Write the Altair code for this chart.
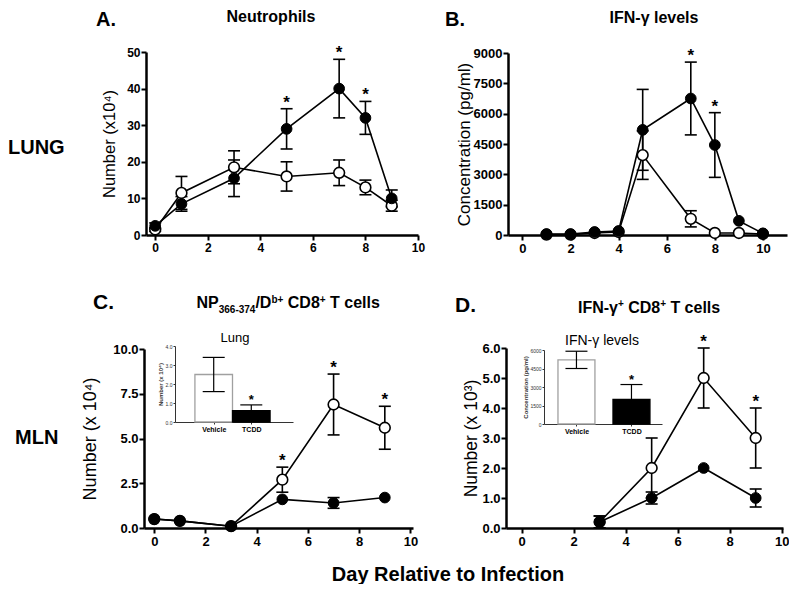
import altair as alt
import pandas as pd

FONT = "Liberation Sans"
W, H = 781, 576

# ---------------- data ----------------
# Panel A: Neutrophils (lung), number x10^4
A_days = [0, 1, 3, 5, 7, 8, 9]
A_vehicle = [1.5, 11.5, 18.5, 16.0, 17.0, 13.0, 8.0]
A_vehicle_err = [0.5, 4.5, 4.5, 4.0, 3.5, 2.0, 1.5]
A_tcdd = [2.5, 8.5, 15.5, 29.0, 40.0, 32.0, 10.0]
A_tcdd_err = [0.8, 2.0, 5.0, 5.5, 8.0, 4.5, 2.3]
A_stars = [("TCDD", 5), ("TCDD", 7), ("TCDD", 8)]

# Panel B: IFN-gamma levels (lung), pg/ml
B_days = [1, 2, 3, 4, 5, 7, 8, 9, 10]
B_vehicle = [20, 20, 100, 150, 3950, 800, 100, 100, 50]
B_vehicle_err = [0, 0, 0, 0, 1200, 400, 0, 0, 0]
B_tcdd = [50, 50, 150, 200, 5200, 6750, 4450, 700, 80]
B_tcdd_err = [0, 0, 0, 0, 2000, 1800, 1600, 0, 0]
B_stars = [("TCDD", 7), ("TCDD", 8)]

# Panel C: NP366-374/Db+ CD8+ T cells (MLN), number x10^4
C_days = [0, 1, 3, 5, 7, 9]
C_vehicle = [0.5, 0.4, 0.1, 2.7, 6.9, 5.6]
C_vehicle_err = [0, 0, 0, 0.7, 1.7, 1.2]
C_tcdd = [0.5, 0.4, 0.1, 1.6, 1.4, 1.7]
C_tcdd_err = [0, 0, 0, 0, 0.3, 0]
C_stars = [("Vehicle", 5), ("Vehicle", 7), ("Vehicle", 9)]

# Panel D: IFN-gamma+ CD8+ T cells (MLN), number x10^3
D_days = [3, 5, 7, 9]
D_vehicle = [0.2, 2.0, 5.0, 3.0]
D_vehicle_err = [0.2, 1.0, 1.0, 1.0]
D_tcdd = [0.2, 1.0, 2.0, 1.0]
D_tcdd_err = [0.2, 0.2, 0, 0.3]
D_stars = [("Vehicle", 7), ("Vehicle", 9)]

# Insets
inset_groups = ["Vehicle", "TCDD"]
IC_vals = [2.5, 0.6]
IC_err = [0.9, 0.3]
IC_stars = ["TCDD"]
ID_vals = [5200, 2000]
ID_err = [700, 1200]
ID_stars = ["TCDD"]


# ---------------- helpers ----------------
def series_df(days, veh, veh_err, tcdd, tcdd_err):
    rows = []
    for d, v, e in zip(days, veh, veh_err):
        rows.append({"day": d, "val": v, "err": e, "grp": "Vehicle"})
    for d, v, e in zip(days, tcdd, tcdd_err):
        rows.append({"day": d, "val": v, "err": e, "grp": "TCDD"})
    df = pd.DataFrame(rows)
    df["lo"] = df["val"] - df["err"]
    df["hi"] = df["val"] + df["err"]
    return df


def panel(df, stars, xdom, xr, ydom, yr, yvals, yfmt, ytitle, titlex, tsize, lsize):
    xs = alt.Scale(domain=xdom, range=xr, nice=False, zero=False)
    ys = alt.Scale(domain=ydom, range=yr, nice=False, zero=False)
    common = dict(tickSize=5, tickWidth=2, domainWidth=2.5, labelFontSize=lsize,
                  labelFontWeight="bold", labelFlush=False, labelOverlap=False,
                  labelBound=False)
    xax = alt.Axis(orient="bottom", offset=yr[0] - H, values=[0, 2, 4, 6, 8, 10],
                   format="d", title=None, labelPadding=2, **common)
    yax = alt.Axis(orient="left", offset=-xr[0], values=yvals, format=yfmt,
                   title=ytitle, titleX=titlex, titleAngle=-90, titleBaseline="middle",
                   titleFontSize=tsize, titleFontWeight="normal", labelPadding=1, **common)
    X = alt.X("day:Q", scale=xs, axis=xax)

    def Y(f):
        return alt.Y(f"{f}:Q", scale=ys, axis=yax)

    base = alt.Chart(df)
    lines = base.mark_line(color="black", strokeWidth=1.6).encode(X, Y("val"), detail="grp:N")
    errd = base.transform_filter("datum.err > 0")
    rules = errd.mark_rule(color="black", strokeWidth=1.6).encode(X, Y("lo"), y2="hi:Q")
    cap_lo = errd.mark_tick(orient="horizontal", color="black", size=12, thickness=1.6,
                            opacity=1).encode(X, Y("lo"))
    cap_hi = errd.mark_tick(orient="horizontal", color="black", size=12, thickness=1.6,
                            opacity=1).encode(X, Y("hi"))
    open_pts = base.transform_filter("datum.grp == 'Vehicle'").mark_point(
        shape="circle", filled=True, fill="white", stroke="black", strokeWidth=1.6,
        size=115, opacity=1).encode(X, Y("val"))
    fill_pts = base.transform_filter("datum.grp == 'TCDD'").mark_point(
        shape="circle", filled=True, fill="black", stroke="black", strokeWidth=1,
        size=115, opacity=1).encode(X, Y("val"))
    sdf = pd.DataFrame([r for _, r in df.iterrows() if (r["grp"], r["day"]) in stars])
    star = alt.Chart(sdf).mark_text(text="*", fontSize=17, fontWeight="bold",
                                    baseline="middle", dy=-6).encode(X, Y("hi"))
    return alt.layer(lines, rules, cap_lo, cap_hi, open_pts, fill_pts, star)


def inset(vals, errs, stars, xdom, xr, ydom, yr, yvals, yfmt, ytitle, titlex, half):
    df = pd.DataFrame({"grp": inset_groups, "val": vals, "err": errs})
    df["pos"] = list(range(1, len(inset_groups) + 1))
    df["lo"] = df["val"] - df["err"]
    df["hi"] = df["val"] + df["err"]
    df["base"] = 0
    xs = alt.Scale(domain=xdom, range=xr, nice=False, zero=False)
    ys = alt.Scale(domain=ydom, range=yr, nice=False, zero=False)
    lab = "[" + ",".join(f"'{g}'" for g in inset_groups) + "][datum.value - 1]"
    xax = alt.Axis(orient="bottom", offset=yr[0] - H, values=[1, 2], labelExpr=lab,
                   title=None, labelFontSize=7, labelFontWeight="bold", tickSize=2,
                   tickWidth=1, domainWidth=1, labelPadding=1, labelFlush=False,
                   labelOverlap=False, domainColor="#333", tickColor="#333",
                   labelColor="black")
    yax = alt.Axis(orient="left", offset=-xr[0], values=yvals, format=yfmt, title=ytitle,
                   titleX=titlex, titleAngle=-90, titleBaseline="middle", titleFontSize=6,
                   titleFontWeight="bold", labelFontSize=5, tickSize=2, tickWidth=1,
                   domainWidth=1, labelPadding=1, domainColor="#333", tickColor="#333",
                   labelColor="#333", titleColor="#333")
    Y = lambda f: alt.Y(f"{f}:Q", scale=ys, axis=yax)
    base = alt.Chart(df).transform_calculate(
        x0=f"datum.pos - {half}", x1=f"datum.pos + {half}")
    bars = base.mark_bar(strokeWidth=1.3).encode(
        x=alt.X("x0:Q", scale=xs, axis=xax), x2="x1:Q", y=Y("val"), y2="base:Q",
        fill=alt.Fill("grp:N", scale=alt.Scale(domain=inset_groups, range=["white", "black"]), legend=None),
        stroke=alt.Stroke("grp:N", scale=alt.Scale(domain=inset_groups, range=["#a0a0a0", "black"]), legend=None),
    )
    X = alt.X("pos:Q", scale=xs, axis=xax)
    rules = base.mark_rule(color="black", strokeWidth=1.2).encode(X, Y("lo"), y2="hi:Q")
    caps_lo = base.mark_tick(orient="horizontal", color="black", size=22, thickness=1.2,
                             opacity=1).encode(X, Y("lo"))
    caps_hi = base.mark_tick(orient="horizontal", color="black", size=22, thickness=1.2,
                             opacity=1).encode(X, Y("hi"))
    star = base.transform_filter(alt.FieldOneOfPredicate(field="grp", oneOf=stars)).mark_text(
        text="*", fontSize=13, fontWeight="bold", baseline="middle", dy=-5).encode(X, Y("hi"))
    return alt.layer(bars, rules, caps_lo, caps_hi, star)


dummy = pd.DataFrame({"a": [0]})


def label(t, x, y, size, weight="bold", align="left"):
    return alt.Chart(dummy).mark_text(text=t, fontSize=size, fontWeight=weight, align=align,
                                      baseline="alphabetic").encode(x=alt.value(x), y=alt.value(y))


# ---------------- panels ----------------
pA = panel(series_df(A_days, A_vehicle, A_vehicle_err, A_tcdd, A_tcdd_err), A_stars,
           [-0.35, 10], [138, 410], [0, 50], [227, 44], [0, 10, 20, 30, 40, 50], "d",
           "Number (x10⁴)", -37, 16.5, 12)
pB = panel(series_df(B_days, B_vehicle, B_vehicle_err, B_tcdd, B_tcdd_err), B_stars,
           [-0.6, 11], [500, 779], [0, 9000], [227, 45], [0, 1500, 3000, 4500, 6000, 7500, 9000], "d",
           "Concentration (pg/ml)", -44, 17, 13)
pC = panel(series_df(C_days, C_vehicle, C_vehicle_err, C_tcdd, C_tcdd_err), C_stars,
           [-0.4, 10.1], [136, 405], [0, 10], [520, 341], [0, 2.5, 5, 7.5, 10], ".1f",
           "Number (x 10⁴)", -54, 18, 13)
pD = panel(series_df(D_days, D_vehicle, D_vehicle_err, D_tcdd, D_tcdd_err), D_stars,
           [-0.6, 10.05], [498, 775], [0, 6], [520, 340], [0, 1, 2, 3, 4, 5, 6], ".1f",
           "Number (x 10³)", -35, 17.5, 13)

iC = inset(IC_vals, IC_err, IC_stars, [-0.03, 3.11], [167, 285], [0, 4], [414, 338],
           [0, 1, 2, 3, 4], ".1f", "Number (x 10⁴)", -15, 0.5)
iD = inset(ID_vals, ID_err, ID_stars, [0.41, 2.555], [536, 654], [0, 6000], [416, 342],
           [0, 1500, 3000, 4500, 6000], "d", "Concentration (pg/ml)", -19, 0.336)

texts = [
    label("A.", 88, 18, 20),
    label("Neutrophils", 263, 14, 16, align="center"),
    label("B.", 437, 18, 20),
    label("IFN-γ levels", 646, 15, 16, align="center"),
    label("C.", 85, 301, 21),
    label("NP", 188.5, 300, 16),
    label("366-374", 210.7, 305, 10),
    label("/D", 247.4, 300, 16),
    label("b+", 263.4, 295, 10),
    label("CD8", 279.8, 300, 16),
    label("+", 311.8, 295, 10),
    label("T cells", 322.1, 300, 16),
    label("D.", 447, 304, 21),
    label("IFN-γ", 570, 305, 16),
    label("+", 610, 299, 10),
    label("CD8", 620.2, 305, 16),
    label("+", 652.2, 299, 10),
    label("T cells", 662.4, 305, 16),
    label("LUNG", 0, 146, 20),
    label("MLN", 7, 436, 20),
    label("Day Relative to Infection", 440, 573, 20, align="center"),
    label("Lung", 227, 334, 13, weight="normal", align="center"),
    label("IFN-γ levels", 594, 337, 14, weight="normal", align="center"),
]

chart = alt.layer(pA, pB, pC, pD, iC, iD, *texts).resolve_scale(
    x="independent", y="independent", fill="independent", stroke="independent"
).resolve_axis(x="independent", y="independent").properties(
    width=W, height=H, autosize=alt.AutoSizeParams(type="none"), padding=0
).configure_view(stroke=None).configure_axis(
    grid=False, labelFont=FONT, titleFont=FONT, domainColor="black", tickColor="black",
    labelColor="black", titleColor="black"
).configure_text(font=FONT, color="black")

chart.save("out.html", embed_options={"renderer": "svg", "actions": False})
